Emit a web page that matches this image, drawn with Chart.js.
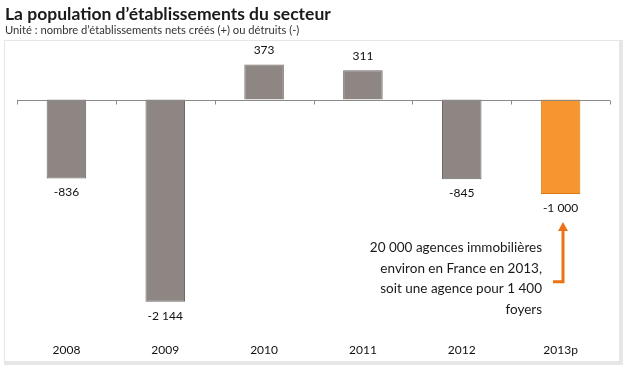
<!DOCTYPE html>
<html>
<head>
<meta charset="utf-8">
<script src="https://cdn.jsdelivr.net/npm/chart.js@4.4.0/dist/chart.umd.min.js"></script>
<style>
  html, body { margin: 0; padding: 0; background: #fff; }
  #wrap { position: relative; width: 625px; height: 369px; }
</style>
</head>
<body>
<div id="wrap"><canvas id="popChart" width="625" height="369"></canvas></div>
<script>
// Données
const annees = ['2008', '2009', '2010', '2011', '2012', '2013p'];
const soldes = [-836, -2144, 373, 311, -845, -1000];
const couleurs = ['#8d8683', '#8d8683', '#8d8683', '#8d8683', '#8d8683', '#f7962f'];
const bordures = ['#6e6866', '#6e6866', '#6e6866', '#6e6866', '#6e6866', '#d9771a'];
const titre = 'La population d’établissements du secteur';
const sousTitre = 'Unité : nombre d’établissements nets créés (+) ou détruits (-)';
const noteLignes = ['20 000 agences immobilières', 'environ en France en 2013,', 'soit une agence pour 1 400', 'foyers'];

const police = 'Lato, "Open Sans", sans-serif';

// Format "1 000"
function formatNombre(v) {
    const s = Math.abs(v).toString().replace(/\B(?=(\d{3})+(?!\d))/g, ' ');
    return (v < 0 ? '-' : '') + s;
}

// Titre, cadre, ligne du zéro, étiquettes et note
const decorPlugin = {
    id: 'decor',
    beforeDraw(chart) {
        const ctx = chart.ctx;
        ctx.save();
        // cadre gris clair
        ctx.fillStyle = '#e6e6e6';
        ctx.fillRect(4, 40, 619, 325);
        ctx.fillStyle = '#ffffff';
        ctx.fillRect(5, 41, 614, 320);
        // titre
        ctx.fillStyle = '#1a1a1a';
        ctx.textBaseline = 'alphabetic';
        ctx.textAlign = 'left';
        ctx.font = 'bold 17.5px ' + police;
        ctx.fillText(titre, 5, 20);
        ctx.font = '11.2px ' + police;
        ctx.fillStyle = '#333';
        ctx.fillText(sousTitre, 5, 34);
        ctx.restore();
    },
    afterDatasetsDraw(chart) {
        const ctx = chart.ctx;
        const x = chart.scales.x;
        const y = chart.scales.y;
        const y0 = Math.round(y.getPixelForValue(0)) + 0.5;
        ctx.save();
        // ligne du zéro + graduations
        ctx.strokeStyle = '#8a8a8a';
        ctx.lineWidth = 1;
        ctx.beginPath();
        ctx.moveTo(chart.chartArea.left, y0);
        ctx.lineTo(chart.chartArea.right, y0);
        for (let i = 0; i <= annees.length; i++) {
            const px = Math.round(x.getPixelForValue(i - 0.5)) + 0.5;
            ctx.moveTo(px, y0);
            ctx.lineTo(px, y0 + 4);
        }
        ctx.stroke();

        // étiquettes de valeurs
        ctx.fillStyle = '#111';
        ctx.font = '12px ' + police;
        ctx.textAlign = 'center';
        ctx.textBaseline = 'middle';
        const meta = chart.getDatasetMeta(0);
        meta.data.forEach((bar, i) => {
            const v = soldes[i];
            const py = v >= 0 ? bar.y - 14 : bar.y + 14;
            ctx.fillText(formatNombre(v), bar.x, py);
        });

        // note et flèche
        const ax = Math.round(x.getPixelForValue(5)) + 2;
        const yHaut = y.getPixelForValue(-1320);
        const yCoin = y.getPixelForValue(-1930);
        ctx.strokeStyle = '#ec7117';
        ctx.fillStyle = '#ec7117';
        ctx.lineWidth = 3;
        ctx.beginPath();
        ctx.moveTo(ax, yHaut + 6);
        ctx.lineTo(ax, yCoin);
        ctx.lineTo(ax - 10, yCoin);
        ctx.stroke();
        ctx.beginPath();
        ctx.moveTo(ax, yHaut - 2);
        ctx.lineTo(ax - 5, yHaut + 7);
        ctx.lineTo(ax + 5, yHaut + 7);
        ctx.closePath();
        ctx.fill();

        ctx.fillStyle = '#1a1a1a';
        ctx.font = '13.5px ' + police;
        ctx.textAlign = 'right';
        ctx.textBaseline = 'middle';
        const tx = ax - 21;
        noteLignes.forEach((l, i) => {
            ctx.fillText(l, tx, yHaut + 24 + i * 20.5);
        });
        ctx.restore();
    }
};

const ctx = document.getElementById('popChart').getContext('2d');
new Chart(ctx, {
    type: 'bar',
    data: {
        labels: annees,
        datasets: [{
            data: soldes,
            backgroundColor: couleurs,
            borderColor: bordures,
            borderWidth: 1,
            barPercentage: 0.8,
            categoryPercentage: 0.5
        }]
    },
    options: {
        responsive: false,
        animation: false,
        layout: { padding: { left: 17, right: 15, top: 43, bottom: 13 } },
        plugins: {
            legend: { display: false },
            tooltip: { enabled: false }
        },
        scales: {
            x: {
                grid: { display: false, drawTicks: false },
                border: { display: false },
                afterFit(scale) { scale.height = 30; },
                ticks: {
                    padding: 17,
                    color: '#111',
                    font: { family: police, size: 12 }
                }
            },
            y: {
                display: false,
                min: -2400,
                max: 600
            }
        }
    },
    plugins: [decorPlugin]
});
</script>
</body>
</html>
